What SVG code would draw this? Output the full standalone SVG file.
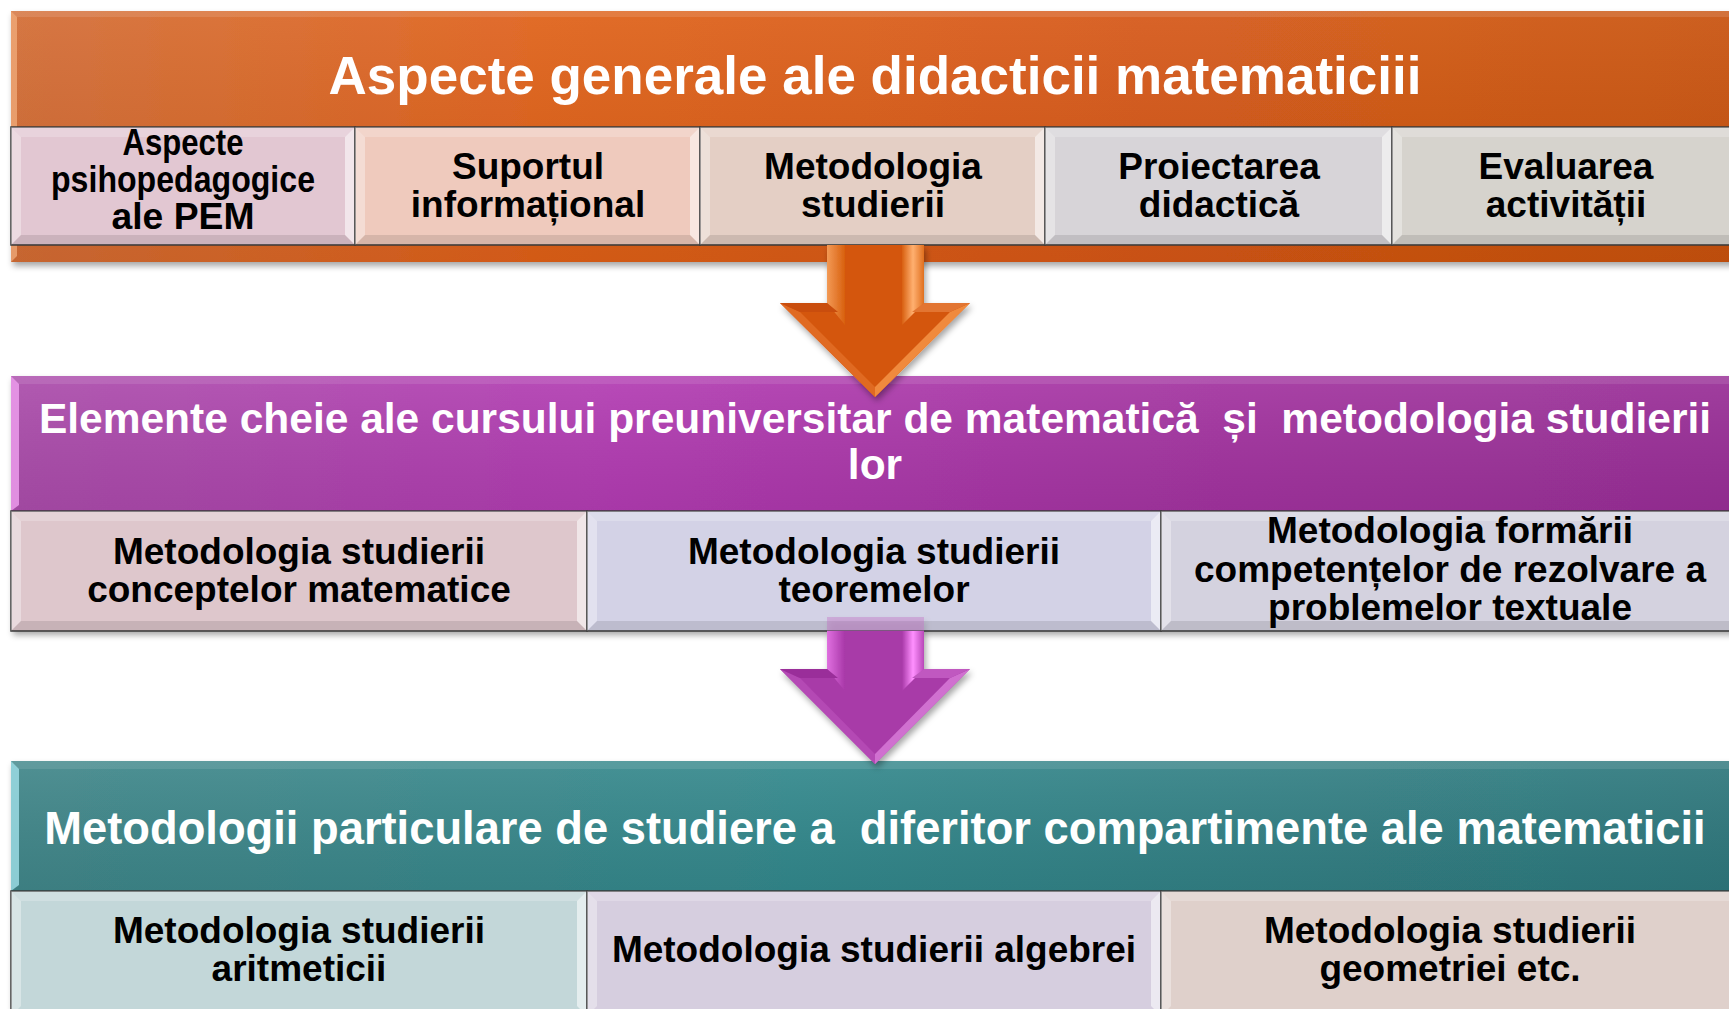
<svg xmlns="http://www.w3.org/2000/svg" width="1729" height="1009" viewBox="0 0 1729 1009">
<style>
.title{font-family:"Liberation Sans",Arial,sans-serif;font-weight:bold;fill:#ffffff;text-anchor:middle;white-space:pre}
.lbl{font-family:"Liberation Sans",Arial,sans-serif;font-weight:bold;fill:#000000;text-anchor:middle;font-size:37px}
.box{stroke:#3a3a3a;stroke-width:1.5}
.bl{fill:#ffffff;fill-opacity:0.35}
.bt{fill:#ffffff;fill-opacity:0.22}
.br{fill:#ffffff;fill-opacity:0.55}
.bb{fill:#000000;fill-opacity:0.10}
</style>
<defs>
<linearGradient id="gOr" x1="0" y1="0" x2="1" y2="0">
<stop offset="0" stop-color="#D26C34"/><stop offset="0.3" stop-color="#DF6019"/><stop offset="0.6" stop-color="#D75813"/><stop offset="1" stop-color="#C8510F"/>
</linearGradient>
<linearGradient id="gPu" x1="0" y1="0" x2="1" y2="0">
<stop offset="0" stop-color="#AA4DAA"/><stop offset="0.35" stop-color="#B23BB2"/><stop offset="0.7" stop-color="#A2339F"/><stop offset="1" stop-color="#982E96"/>
</linearGradient>
<linearGradient id="gTe" x1="0" y1="0" x2="1" y2="0">
<stop offset="0" stop-color="#408689"/><stop offset="0.45" stop-color="#33888C"/><stop offset="1" stop-color="#2E777C"/>
</linearGradient>
<linearGradient id="gShade" x1="0" y1="0" x2="0" y2="1">
<stop offset="0" stop-color="#ffffff" stop-opacity="0.08"/><stop offset="1" stop-color="#000000" stop-opacity="0.06"/>
</linearGradient>
<linearGradient id="gOrHi" x1="0" y1="0" x2="1" y2="0">
<stop offset="0" stop-color="#F39A55"/><stop offset="1" stop-color="#D8600F"/>
</linearGradient>
<linearGradient id="gOrHi2" x1="0" y1="0" x2="1" y2="0">
<stop offset="0" stop-color="#D8600F"/><stop offset="0.5" stop-color="#FFB070"/><stop offset="1" stop-color="#E07020"/>
</linearGradient>
<linearGradient id="gPuHi" x1="0" y1="0" x2="1" y2="0">
<stop offset="0" stop-color="#E070E0"/><stop offset="1" stop-color="#A838A8"/>
</linearGradient>
<linearGradient id="gPuHi2" x1="0" y1="0" x2="1" y2="0">
<stop offset="0" stop-color="#A838A8"/><stop offset="0.5" stop-color="#FF90FF"/><stop offset="1" stop-color="#B848B8"/>
</linearGradient>
<filter id="sh" x="-5%" y="-10%" width="110%" height="130%">
<feDropShadow dx="2" dy="4" stdDeviation="3" flood-color="#000000" flood-opacity="0.35"/>
</filter>
</defs>
<rect width="1729" height="1009" fill="#ffffff"/>

<!-- Band 1 -->
<g id="band-aspecte-generale">
<rect x="11" y="11" width="1730" height="251" fill="url(#gOr)" filter="url(#sh)"/>
<rect x="11" y="11" width="1730" height="251" fill="url(#gShade)"/>
<polygon points="11,11 17,17 17,256 11,262" fill="#F4B080" fill-opacity="0.7"/>
<polygon points="11,11 1741,11 1735,17 17,17" fill="#ffffff" fill-opacity="0.12"/>
<text class="title" x="875" y="94" font-size="53">Aspecte generale ale didacticii matematiciii</text>
</g>
<g id="box-psihopedagogice">
<rect class="box" x="11" y="127" width="344" height="118" fill="#E2C7D2"/>
<polygon class="bl" points="11,127 21,137 21,235 11,245"/><polygon class="bt" points="11,127 355,127 345,137 21,137"/><polygon class="br" points="355,127 355,245 345,235 345,137"/><polygon class="bb" points="11,245 21,235 345,235 355,245"/>
<text class="lbl" x="183" y="155" font-size="29" textLength="121" lengthAdjust="spacingAndGlyphs">Aspecte</text>
<text class="lbl" x="183" y="192" font-size="29" textLength="264" lengthAdjust="spacingAndGlyphs">psihopedagogice</text>
<text class="lbl" x="183" y="229" textLength="143" lengthAdjust="spacingAndGlyphs">ale PEM</text>
</g>
<g id="box-suportul">
<rect class="box" x="355" y="127" width="345" height="118" fill="#EFCABD"/>
<polygon class="bl" points="355,127 365,137 365,235 355,245"/><polygon class="bt" points="355,127 700,127 690,137 365,137"/><polygon class="br" points="700,127 700,245 690,235 690,137"/><polygon class="bb" points="355,245 365,235 690,235 700,245"/>
<text class="lbl" x="528" y="179">Suportul</text>
<text class="lbl" x="528" y="217">informațional</text>
</g>
<g id="box-metodologia-studierii">
<rect class="box" x="700" y="127" width="345" height="118" fill="#E4CFC5"/>
<polygon class="bl" points="700,127 710,137 710,235 700,245"/><polygon class="bt" points="700,127 1045,127 1035,137 710,137"/><polygon class="br" points="1045,127 1045,245 1035,235 1035,137"/><polygon class="bb" points="700,245 710,235 1035,235 1045,245"/>
<text class="lbl" x="873" y="179">Metodologia</text>
<text class="lbl" x="873" y="217">studierii</text>
</g>
<g id="box-proiectarea">
<rect class="box" x="1045" y="127" width="347" height="118" fill="#D7D4D8"/>
<polygon class="bl" points="1045,127 1055,137 1055,235 1045,245"/><polygon class="bt" points="1045,127 1392,127 1382,137 1055,137"/><polygon class="br" points="1392,127 1392,245 1382,235 1382,137"/><polygon class="bb" points="1045,245 1055,235 1382,235 1392,245"/>
<text class="lbl" x="1219" y="179">Proiectarea</text>
<text class="lbl" x="1219" y="217">didactică</text>
</g>
<g id="box-evaluarea">
<rect class="box" x="1392" y="127" width="348" height="118" fill="#D6D3CD"/>
<polygon class="bl" points="1392,127 1402,137 1402,235 1392,245"/><polygon class="bt" points="1392,127 1740,127 1730,137 1402,137"/><polygon class="br" points="1740,127 1740,245 1730,235 1730,137"/><polygon class="bb" points="1392,245 1402,235 1730,235 1740,245"/>
<text class="lbl" x="1566" y="179">Evaluarea</text>
<text class="lbl" x="1566" y="217">activității</text>
</g>

<!-- Band 2 -->
<g id="band-elemente-cheie">
<rect x="11" y="376" width="1730" height="255" fill="url(#gPu)" filter="url(#sh)"/>
<rect x="11" y="376" width="1730" height="135" fill="url(#gShade)"/>
<polygon points="11,376 19,384 19,505 11,511" fill="#F0A0F0" fill-opacity="0.8"/>
<polygon points="11,376 1741,376 1733,384 19,384" fill="#ffffff" fill-opacity="0.1"/>
<text class="title" x="875" y="433" font-size="42.5">Elemente cheie ale cursului preuniversitar de matematică  și  metodologia studierii</text>
<text class="title" x="875" y="479" font-size="42.5">lor</text>
</g>
<g id="box-concepte">
<rect class="box" x="11" y="511" width="576" height="120" fill="#DEC7CC"/>
<polygon class="bl" points="11,511 21,521 21,621 11,631"/><polygon class="bt" points="11,511 587,511 577,521 21,521"/><polygon class="br" points="587,511 587,631 577,621 577,521"/><polygon class="bb" points="11,631 21,621 577,621 587,631"/>
<text class="lbl" x="299" y="564">Metodologia studierii</text>
<text class="lbl" x="299" y="602">conceptelor matematice</text>
</g>
<g id="box-teoreme">
<rect class="box" x="587" y="511" width="574" height="120" fill="#D3D2E6"/>
<polygon class="bl" points="587,511 597,521 597,621 587,631"/><polygon class="bt" points="587,511 1161,511 1151,521 597,521"/><polygon class="br" points="1161,511 1161,631 1151,621 1151,521"/><polygon class="bb" points="587,631 597,621 1151,621 1161,631"/>
<text class="lbl" x="874" y="564">Metodologia studierii</text>
<text class="lbl" x="874" y="602">teoremelor</text>
</g>
<g id="box-probleme">
<rect class="box" x="1161" y="511" width="579" height="120" fill="#D4D2DF"/>
<polygon class="bl" points="1161,511 1171,521 1171,621 1161,631"/><polygon class="bt" points="1161,511 1740,511 1730,521 1171,521"/><polygon class="br" points="1740,511 1740,631 1730,621 1730,521"/><polygon class="bb" points="1161,631 1171,621 1730,621 1740,631"/>
<text class="lbl" x="1450" y="543">Metodologia formării</text>
<text class="lbl" x="1450" y="582">competențelor de rezolvare a</text>
<text class="lbl" x="1450" y="620">problemelor textuale</text>
</g>

<!-- Band 3 -->
<g id="band-metodologii-particulare">
<rect x="11" y="761" width="1730" height="248" fill="url(#gTe)" filter="url(#sh)"/>
<rect x="11" y="761" width="1730" height="130" fill="url(#gShade)"/>
<polygon points="11,761 19,769 19,885 11,891" fill="#A0E0E8" fill-opacity="0.8"/>
<polygon points="11,761 1741,761 1733,769 19,769" fill="#ffffff" fill-opacity="0.1"/>
<text class="title" x="875" y="844" font-size="45.3">Metodologii particulare de studiere a  diferitor compartimente ale matematicii</text>
</g>
<g id="box-aritmetica">
<rect class="box" x="11" y="891" width="576" height="125" fill="#C3D7D9"/>
<polygon class="bl" points="11,891 21,901 21,1006 11,1016"/><polygon class="bt" points="11,891 587,891 577,901 21,901"/><polygon class="br" points="587,891 587,1016 577,1006 577,901"/>
<text class="lbl" x="299" y="943">Metodologia studierii</text>
<text class="lbl" x="299" y="981">aritmeticii</text>
</g>
<g id="box-algebra">
<rect class="box" x="587" y="891" width="574" height="125" fill="#D6CEDF"/>
<polygon class="bl" points="587,891 597,901 597,1006 587,1016"/><polygon class="bt" points="587,891 1161,891 1151,901 597,901"/><polygon class="br" points="1161,891 1161,1016 1151,1006 1151,901"/>
<text class="lbl" x="874" y="962">Metodologia studierii algebrei</text>
</g>
<g id="box-geometrie">
<rect class="box" x="1161" y="891" width="579" height="125" fill="#DFD0CB"/>
<polygon class="bl" points="1161,891 1171,901 1171,1006 1161,1016"/><polygon class="bt" points="1161,891 1740,891 1730,901 1171,901"/><polygon class="br" points="1740,891 1740,1016 1730,1006 1730,901"/>
<text class="lbl" x="1450" y="943">Metodologia studierii</text>
<text class="lbl" x="1450" y="981">geometriei etc.</text>
</g>

<!-- Connectors -->
<g id="connectors">
<g id="arrow-1" filter="url(#sh)">
<polygon points="827,245 924,245 924,303 970,303 875,397 780,303 827,303" fill="#D4560F"/>
<polygon points="827,245 845,245 845,325 827,303" fill="url(#gOrHi)"/>
<polygon points="902,245 924,245 924,303 902,325" fill="url(#gOrHi2)"/>
<polygon points="780,303 800,312 875,387 875,397" fill="#E06A24"/>
<polygon points="970,303 950,312 875,387 875,397" fill="#F08A3C"/>
<polygon points="924,303 970,303 950,312 912,312" fill="#E27532"/>
<polygon points="780,303 827,303 838,312 800,312" fill="#C94D0C"/>
</g>
<g id="arrow-2" filter="url(#sh)">
<rect x="827" y="617" width="97" height="14" fill="#C060C0" fill-opacity="0.35"/>
<polygon points="827,631 924,631 924,669 970,669 875,764 780,669 827,669" fill="#A83AA8"/>
<polygon points="827,631 845,631 845,691 827,669" fill="url(#gPuHi)"/>
<polygon points="902,631 924,631 924,669 902,691" fill="url(#gPuHi2)"/>
<polygon points="780,669 800,678 875,754 875,764" fill="#B448B4"/>
<polygon points="970,669 950,678 875,754 875,764" fill="#D070D0"/>
<polygon points="924,669 970,669 950,678 912,678" fill="#C058C0"/>
<polygon points="780,669 827,669 838,678 800,678" fill="#9A2E9A"/>
</g>
</g>
</svg>
